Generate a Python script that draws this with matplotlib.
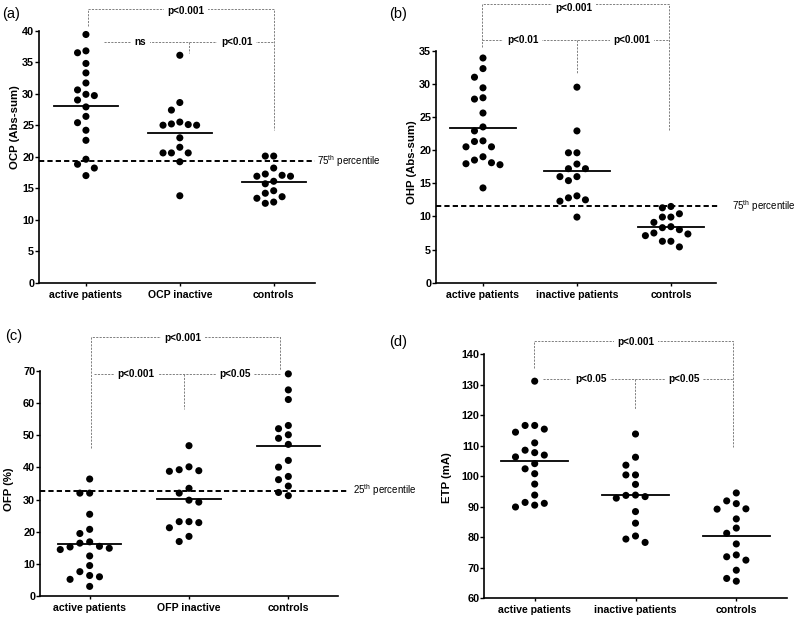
import numpy as np
import matplotlib
matplotlib.use("Agg")
import matplotlib.pyplot as plt

plt.rcParams['font.family'] = ['Liberation Sans', 'DejaVu Sans']
plt.rcParams['font.weight'] = 'bold'
plt.rcParams['mathtext.default'] = 'regular'

# ---------------- data ----------------
cats_a = ["active patients", "OCP inactive", "controls"]
cats_b = ["active patients", "inactive patients", "controls"]
cats_c = ["active patients", "OFP inactive", "controls"]
cats_d = ["active patients", "inactive patients", "controls"]

ocp_active = [39.4, 36.8, 36.5, 34.8, 33.3, 31.7, 30.6, 29.9, 29.7, 29.0, 27.9, 26.4,
              25.4, 24.2, 22.6, 19.6, 18.8, 18.2, 17.0]
ocp_inactive = [36.1, 28.6, 27.4, 25.5, 25.1, 25.0, 25.0, 25.2, 23.0, 21.5, 20.6, 20.6,
                20.6, 19.2, 13.8]
ocp_controls = [20.1, 20.1, 18.2, 17.25, 16.9, 16.9, 17.05, 16.1, 15.7, 14.6, 14.2, 13.4,
                13.65, 12.8, 12.6]
ocp_pct = 19.3

ohp_active = [33.9, 32.3, 31.0, 29.4, 27.9, 27.7, 25.6, 23.5, 22.9, 21.3, 21.4, 20.5,
              20.5, 19.0, 18.5, 17.95, 17.8, 18.1, 14.3]
ohp_inactive = [29.5, 22.9, 19.6, 19.6, 17.2, 17.2, 17.9, 16.0, 16.0, 15.4, 13.1, 12.5,
                12.8, 12.3, 9.9]
ohp_controls = [11.5, 11.3, 10.4, 9.9, 9.9, 9.1, 8.45, 8.0, 8.3, 7.35, 7.5, 7.1, 6.25,
                6.25, 5.4]
ohp_pct = 11.55

ofp_active = [36.4, 32.0, 32.0, 25.4, 20.7, 19.4, 15.4, 16.8, 16.4, 14.8, 14.4, 15.2,
              12.4, 9.4, 7.5, 5.9, 6.3, 5.1, 2.9]
ofp_inactive = [46.8, 39.3, 38.8, 39.0, 40.2, 33.5, 32.0, 29.2, 29.8, 23.1, 22.8, 23.1,
                21.2, 18.5, 16.9]
ofp_controls = [69.2, 64.2, 61.2, 52.1, 53.1, 49.1, 50.2, 47.2, 42.2, 40.1, 37.2, 36.2,
                34.2, 32.2, 31.2]
ofp_pct = 32.8

etp_active = [131.1, 116.6, 116.6, 114.4, 115.4, 110.9, 108.5, 106.9, 107.7, 106.3,
              104.1, 102.4, 100.8, 97.4, 93.8, 91.1, 89.9, 90.5, 91.4]
etp_inactive = [113.8, 106.2, 103.6, 100.4, 100.4, 97.3, 93.8, 93.3, 92.8, 93.7, 88.4,
                84.6, 80.4, 79.4, 78.3]
etp_controls = [94.5, 91.0, 91.9, 89.2, 89.3, 86.0, 83.0, 81.3, 77.8, 74.2, 73.6, 72.5,
                69.2, 65.6, 66.5]

# ---------------- layout ----------------
W, H = 800, 619
fig = plt.figure(figsize=(W / 100, H / 100), dpi=100)

panels = [
    dict(letter="(a)", letter_xy=(11, 14), rect_px=(39, 30.7, 276, 252), xlim=(-0.5, 2.44),
         ylim=(0, 40), ticks=np.arange(0, 41, 5), cats=cats_a,
         groups=[ocp_active, ocp_inactive, ocp_controls], ylabel="OCP (Abs-sum)",
         ylab_xy=(-0.087, 0.618), pct=ocp_pct, pct_end=2.44, pct_text="75", pct_x=2.465,
         col_px=8.4, hw=0.34,
         outer=dict(y=43.4, xl=0.025, yl=40.7, xr=2.006, yr=24.2, tx=1.062, ty=43.1,
                    t="p<0.001"),
         inner=dict(y=38.2, x0=0.195, x1=2.006, xm=1.094, ym=36.4,
                    texts=[(0.583, "ns"), (1.605, "p<0.01")])),
    dict(letter="(b)", letter_xy=(398.5, 14), rect_px=(436, 50.7, 280, 232), xlim=(-0.5, 2.48),
         ylim=(0, 35), ticks=np.arange(0, 36, 5), cats=cats_b,
         groups=[ohp_active, ohp_inactive, ohp_controls], ylabel="OHP (Abs-sum)",
         ylab_xy=(-0.087, 0.52), pct=ohp_pct, pct_end=2.52, pct_text="75", pct_x=2.646,
         col_px=8.5, hw=0.35,
         outer=dict(y=42.0, xl=-0.014, yl=35.6, xr=1.982, yr=22.9, tx=0.968, ty=41.5,
                    t="p<0.001"),
         inner=dict(y=36.6, x0=-0.014, x1=1.982, xm=0.997, ym=31.7,
                    texts=[(0.422, "p<0.01"), (1.588, "p<0.001")])),
    dict(letter="(c)", letter_xy=(14, 336), rect_px=(40, 371.3, 298, 224.4), xlim=(-0.5, 2.5),
         ylim=(0, 70), ticks=np.arange(0, 71, 10), cats=cats_c,
         groups=[ofp_active, ofp_inactive, ofp_controls], ylabel="OFP (%)",
         ylab_xy=(-0.104, 0.475), pct=ofp_pct, pct_end=2.59, pct_text="25", pct_x=2.649,
         col_px=9.8, hw=0.32,
         outer=dict(y=80.6, xl=0.011, yl=46.0, xr=1.917, yr=70.4, tx=0.937, ty=80.3,
                    t="p<0.001"),
         inner=dict(y=69.1, x0=0.044, x1=1.917, xm=0.947, ym=58.2,
                    texts=[(0.467, "p<0.001"), (1.464, "p<0.05")])),
    dict(letter="(d)", letter_xy=(398.5, 342), rect_px=(484.3, 354, 302.4, 244.3),
         xlim=(-0.5, 2.5), ylim=(60, 140), ticks=np.arange(60, 141, 10), cats=cats_d,
         groups=[etp_active, etp_inactive, etp_controls], ylabel="ETP (mA)",
         ylab_xy=(-0.124, 0.495), pct=None, col_px=9.6, hw=0.33,
         outer=dict(y=144.3, xl=-0.01, yl=135.3, xr=1.97, yr=109.4, tx=1.005, ty=144.0,
                    t="p<0.001"),
         inner=dict(y=131.9, x0=0.079, x1=1.97, xm=0.992, ym=122.0,
                    texts=[(0.556, "p<0.05"), (1.481, "p<0.05")])),
]

DOT_PX = 9.0


def swarm_offsets(vals, px_per_y):
    vals = np.asarray(vals, dtype=float)
    order = np.argsort(-vals, kind="stable")
    placed = {}
    offs = np.zeros(len(vals))
    for i in order:
        y = vals[i] * px_per_y
        for c in [0, -1, 1, -2, 2, -3, 3, -4, 4]:
            if all(abs(y - yy) >= DOT_PX for yy in placed.get(c, [])):
                placed.setdefault(c, []).append(y)
                offs[i] = c
                break
    return offs


dot_kw = dict(color="#808080", lw=0.7, ls=(0, (2.2, 1.3)), clip_on=False, zorder=1)
ptxt_kw = dict(ha="center", va="center", fontsize=7.2, fontweight="bold", zorder=3,
               bbox=dict(facecolor="white", edgecolor="none", pad=2.5), clip_on=False)

for p in panels:
    l, t, w, h = p["rect_px"]
    ax = fig.add_axes([l / W, (H - t - h) / H, w / W, h / H])
    ax.set_xlim(*p["xlim"])
    ax.set_ylim(*p["ylim"])
    ax.set_yticks(p["ticks"])
    ax.set_xticks(range(3))
    ax.set_xticklabels(p["cats"], fontsize=7.6, fontweight="bold")
    for lab in ax.get_yticklabels():
        lab.set_fontweight("bold")
    ax.tick_params(axis="y", direction="out", length=2.9, width=1, labelsize=7.8, pad=0.6)
    ax.tick_params(axis="x", direction="out", length=2.5, width=1, labelsize=7.6, pad=2.5)
    for s in ["top", "right"]:
        ax.spines[s].set_visible(False)
    for s in ["left", "bottom"]:
        ax.spines[s].set_linewidth(1.2)
    ax.set_ylabel(p["ylabel"], fontsize=8.2, fontweight="bold", va="center")
    ax.yaxis.set_label_coords(*p["ylab_xy"])

    px_per_y = h / (p["ylim"][1] - p["ylim"][0])
    px_per_x = w / (p["xlim"][1] - p["xlim"][0])
    col_units = p["col_px"] / px_per_x
    for i, g in enumerate(p["groups"]):
        offs = swarm_offsets(g, px_per_y)
        ax.scatter(i + offs * col_units, g, s=26, color="black", edgecolors="none",
                   zorder=4, clip_on=False)
        m = np.mean(g)
        ax.plot([i - p["hw"], i + p["hw"]], [m, m], color="black", lw=1.3, zorder=3)

    if p["pct"] is not None:
        ax.plot([p["xlim"][0], p["pct_end"]], [p["pct"], p["pct"]], color="black",
                lw=1.4, ls=(0, (2.7, 1.6)), clip_on=False, zorder=2)
        ax.text(p["pct_x"], p["pct"], p["pct_text"] + r"$^{th}$ percentile", fontsize=7,
                fontweight="normal", ha="left", va="center", clip_on=False)

    o = p["outer"]
    ax.plot([o["xl"], o["xl"], o["xr"], o["xr"]], [o["yl"], o["y"], o["y"], o["yr"]], **dot_kw)
    ax.text(o["tx"], o["ty"], o["t"], **ptxt_kw)
    n = p["inner"]
    ax.plot([n["x0"], n["x1"]], [n["y"], n["y"]], **dot_kw)
    ax.plot([n["xm"], n["xm"]], [n["y"], n["ym"]], **dot_kw)
    for tx, tt in n["texts"]:
        ax.text(tx, n["y"], tt, **ptxt_kw)

    lx, ly = p["letter_xy"]
    fig.text(lx / W, 1 - ly / H, p["letter"], fontsize=10.5, fontweight="normal",
             ha="center", va="center")

fig.savefig("out.png", dpi=100)
